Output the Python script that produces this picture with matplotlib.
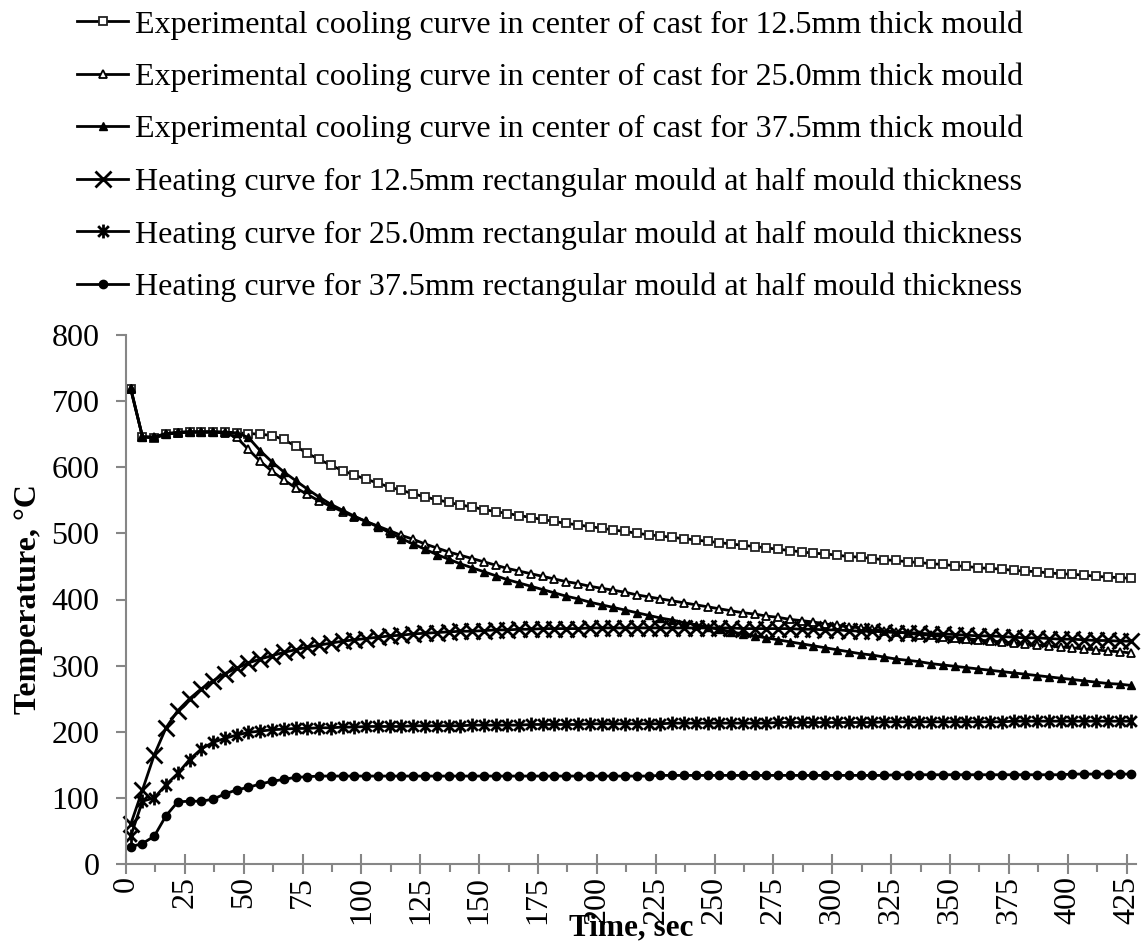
import numpy as np
import matplotlib
matplotlib.use('Agg')
import matplotlib.pyplot as plt
from matplotlib.path import Path

plt.rcParams['font.family'] = ['Liberation Serif', 'DejaVu Serif']
plt.rcParams['font.size'] = 23

# ===== DATA (sampled every 5 s, first reading at 2 s) =====
time_s = list(range(2, 428, 5))

cool_125 = [718, 646, 644, 650, 652, 653, 653, 653, 653, 652,
            651, 650, 648, 642, 632, 621, 612, 603, 595, 588,
            582, 576, 570, 565, 560, 555, 551, 547, 543, 540,
            536, 533, 530, 527, 524, 521, 518, 515, 513, 510,
            508, 505, 503, 500, 498, 496, 494, 492, 490, 488,
            486, 484, 482, 480, 478, 476, 474, 472, 470, 469,
            467, 465, 464, 462, 460, 459, 457, 456, 454, 453,
            451, 450, 448, 447, 446, 444, 443, 442, 440, 439,
            438, 437, 435, 434, 433, 432]

cool_250 = [719, 646, 645, 650, 652, 653, 653, 653, 652, 645,
            627, 609, 594, 581, 569, 559, 549, 541, 533, 525,
            518, 511, 504, 497, 491, 484, 478, 472, 467, 462,
            457, 452, 447, 443, 439, 435, 431, 427, 424, 420,
            417, 414, 411, 407, 404, 401, 398, 395, 392, 389,
            386, 383, 380, 378, 375, 373, 370, 368, 366, 363,
            361, 359, 357, 355, 353, 351, 349, 347, 346, 344,
            342, 341, 339, 337, 336, 334, 333, 331, 330, 328,
            327, 325, 324, 322, 321, 319]

cool_375 = [720, 646, 646, 651, 653, 654, 654, 654, 653, 652,
            645, 625, 608, 593, 580, 567, 555, 544, 535, 526,
            518, 510, 501, 492, 484, 476, 468, 461, 454, 448,
            442, 436, 430, 425, 420, 415, 410, 405, 401, 396,
            392, 388, 384, 380, 376, 372, 369, 365, 362, 358,
            355, 351, 348, 345, 342, 339, 336, 333, 330, 327,
            324, 321, 318, 316, 313, 310, 308, 306, 303, 301,
            299, 297, 295, 293, 291, 289, 287, 285, 283, 281,
            279, 277, 275, 273, 272, 270]

heat_125 = [60, 112, 165, 206, 232, 250, 265, 277, 288, 296,
            304, 310, 315, 320, 324, 328, 331, 334, 337, 339,
            341, 343, 345, 346, 348, 349, 350, 351, 352, 352,
            353, 354, 354, 355, 355, 356, 356, 356, 356, 357,
            357, 357, 357, 357, 357, 357, 357, 357, 357, 357,
            357, 357, 356, 356, 356, 356, 356, 355, 355, 354,
            354, 353, 352, 352, 351, 350, 350, 349, 348, 348,
            347, 346, 345, 345, 344, 343, 342, 342, 341, 340,
            340, 339, 338, 338, 337, 337]

heat_250 = [42, 95, 100, 120, 137, 158, 174, 184, 190, 195,
            199, 201, 203, 204, 205, 205, 206, 206, 207, 207,
            208, 208, 208, 208, 209, 209, 209, 209, 209, 210,
            210, 210, 210, 210, 211, 211, 211, 211, 211, 212,
            212, 212, 212, 212, 212, 212, 213, 213, 213, 213,
            213, 213, 213, 213, 213, 214, 214, 214, 214, 214,
            214, 214, 214, 214, 215, 215, 215, 215, 215, 215,
            215, 215, 215, 215, 215, 216, 216, 216, 216, 216,
            216, 216, 216, 216, 216, 216]

heat_375 = [26, 31, 42, 73, 94, 95, 95, 98, 106, 112,
            116, 121, 125, 128, 131, 132, 133, 133, 133, 133,
            133, 133, 133, 133, 133, 133, 133, 133, 133, 133,
            133, 133, 133, 133, 133, 133, 133, 133, 133, 133,
            133, 133, 133, 133, 133, 134, 134, 134, 134, 134,
            134, 134, 134, 134, 134, 134, 134, 134, 134, 134,
            134, 134, 134, 134, 134, 135, 135, 135, 135, 135,
            135, 135, 135, 135, 135, 135, 135, 135, 135, 135,
            136, 136, 136, 136, 136, 136]

labels = [
    'Experimental cooling curve in center of cast for 12.5mm thick mould',
    'Experimental cooling curve in center of cast for 25.0mm thick mould',
    'Experimental cooling curve in center of cast for 37.5mm thick mould',
    'Heating curve for 12.5mm rectangular mould at half mould thickness',
    'Heating curve for 25.0mm rectangular mould at half mould thickness',
    'Heating curve for 37.5mm rectangular mould at half mould thickness',
]

x_ticks = list(range(0, 426, 25))

# asterisk marker = X with a vertical bar (Excel style)
star = Path([(-1, -1), (1, 1), (-1, 1), (1, -1), (0, -1.3), (0, 1.3)],
            [Path.MOVETO, Path.LINETO, Path.MOVETO, Path.LINETO, Path.MOVETO, Path.LINETO])

styles = [
    dict(marker='s', markersize=5.5, markerfacecolor='white', markeredgecolor='#222222', markeredgewidth=1.3),
    dict(marker='^', markersize=5.5, markerfacecolor='white', markeredgecolor='black', markeredgewidth=1.3),
    dict(marker='^', markersize=6, markerfacecolor='black', markeredgecolor='black'),
    dict(marker='x', markersize=11, markeredgecolor='black', markeredgewidth=2),
    dict(marker=star, markersize=10, markeredgecolor='black', markeredgewidth=2),
    dict(marker='o', markersize=6, markerfacecolor='black', markeredgecolor='black'),
]

series = [cool_125, cool_250, cool_375, heat_125, heat_250, heat_375]

fig = plt.figure(figsize=(11.48, 9.5), dpi=100)
ax = fig.add_axes([126 / 1148, 86 / 950, 1010 / 1148, 529 / 950])

handles = []
for vals, st in zip(series, styles):
    h, = ax.plot(time_s, vals, color='black', linewidth=2, clip_on=False, **st)
    handles.append(h)

ax.set_xlim(0, 429)
ax.set_ylim(0, 800)
ax.set_yticks(range(0, 801, 100))
ax.set_xticks(x_ticks)
ax.set_xticks([v + 12.5 for v in x_ticks[:-1]], minor=True)

grey = '#868686'
for s in ['top', 'right']:
    ax.spines[s].set_visible(False)
for s in ['left', 'bottom']:
    ax.spines[s].set_color(grey)
    ax.spines[s].set_linewidth(1.5)

ax.tick_params(axis='x', which='major', direction='inout', length=14, width=1.5,
               color=grey, labelrotation=90, pad=2, labelsize=23)
ax.tick_params(axis='x', which='minor', direction='out', length=6, width=1.5, color=grey)
ax.tick_params(axis='y', which='major', direction='out', length=7, width=1.5,
               color=grey, pad=12, labelsize=23)

ax.set_xlabel('Time, sec', fontweight='bold', fontsize=22.5)
ax.xaxis.set_label_coords(0.5, -0.094)
ax.set_ylabel('Temperature, °C', fontweight='bold', fontsize=23)
ax.yaxis.set_label_coords(-0.082, 0.5)

fig.legend(handles, labels, loc='upper left', bbox_to_anchor=(77 / 1148, 1 - 10 / 950),
           frameon=False, fontsize=23, handlelength=1.6, handletextpad=0.22,
           labelspacing=0.72, borderpad=0, borderaxespad=0)

plt.savefig('out.png', dpi=100)
